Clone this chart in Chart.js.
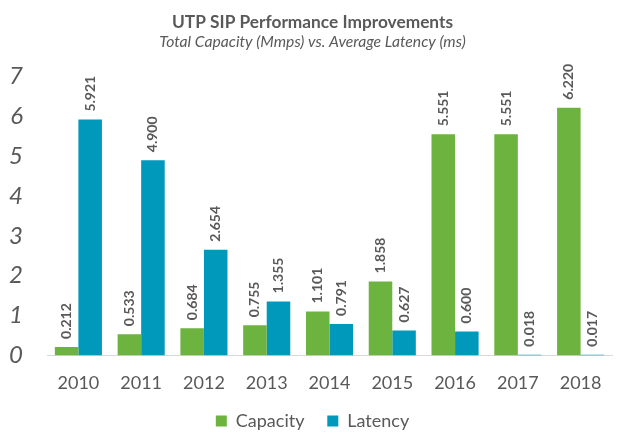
<!DOCTYPE html>
<html>
<head>
<meta charset="utf-8">
<script src="https://cdn.jsdelivr.net/npm/chart.js@4/dist/chart.umd.min.js"></script>
<style>
  html, body { margin: 0; padding: 0; background: #fff; }
</style>
</head>
<body>
<canvas id="chart" width="625" height="445"></canvas>
<script>
const years = ['2010', '2011', '2012', '2013', '2014', '2015', '2016', '2017', '2018'];
const capacity = [0.212, 0.533, 0.684, 0.755, 1.101, 1.858, 5.551, 5.551, 6.220];
const latency = [5.921, 4.900, 2.654, 1.355, 0.791, 0.627, 0.600, 0.018, 0.017];
const yTicks = [0, 1, 2, 3, 4, 5, 6, 7];

const FONT = 'Lato, "Open Sans", sans-serif';
const GREY = '#595959';

// draws the rotated value above each bar
const barValueLabels = {
  id: 'barValueLabels',
  afterDatasetsDraw(chart) {
    const ctx = chart.ctx;
    ctx.save();
    ctx.font = 'bold 14px ' + FONT;
    ctx.fillStyle = GREY;
    ctx.textAlign = 'left';
    ctx.textBaseline = 'middle';
    chart.data.datasets.forEach((ds, i) => {
      chart.getDatasetMeta(i).data.forEach((bar, j) => {
        ctx.save();
        ctx.translate(bar.x, bar.y - 8);
        ctx.rotate(-Math.PI / 2);
        ctx.fillText(ds.data[j].toFixed(3), 0, 0);
        ctx.restore();
      });
    });
    ctx.restore();
  }
};

new Chart(document.getElementById('chart').getContext('2d'), {
  type: 'bar',
  data: {
    labels: years,
    datasets: [
      {
        label: 'Capacity',
        data: capacity,
        backgroundColor: '#6db33f',
        categoryPercentage: 0.75,
        barPercentage: 1.0
      },
      {
        label: 'Latency',
        data: latency,
        backgroundColor: '#0099bb',
        categoryPercentage: 0.75,
        barPercentage: 1.0
      }
    ]
  },
  options: {
    responsive: false,
    animation: false,
    layout: { padding: { left: 0, right: 0, top: 4, bottom: 5 } },
    plugins: {
      title: {
        display: true,
        text: 'UTP SIP Performance Improvements',
        color: GREY,
        font: { family: FONT, size: 17.3, weight: 'bold' },
        padding: { top: 8, bottom: 0 }
      },
      subtitle: {
        display: true,
        text: 'Total Capacity (Mmps) vs. Average Latency (ms)',
        color: GREY,
        font: { family: FONT, size: 15.7, style: 'italic' },
        padding: { bottom: 25 }
      },
      legend: {
        position: 'bottom',
        labels: {
          color: GREY,
          font: { family: FONT, size: 18 },
          boxWidth: 11,
          boxHeight: 11,
          padding: 9,
          // a little extra room between the two entries
          generateLabels: chart => Chart.defaults.plugins.legend.labels.generateLabels(chart)
            .map((item, i, all) => i < all.length - 1 ? { ...item, text: item.text + '   ' } : item)
        }
      },
      tooltip: { enabled: false }
    },
    scales: {
      x: {
        grid: { display: false },
        border: { color: '#d9d9d9', width: 1 },
        ticks: {
          color: GREY,
          font: { family: FONT, size: 18 },
          padding: 9
        }
      },
      y: {
        min: 0,
        max: 7,
        afterBuildTicks: axis => { axis.ticks = yTicks.map(v => ({ value: v })); },
        afterFit: axis => { axis.width = 47; },
        grid: { display: false, drawTicks: false },
        border: { display: false },
        ticks: {
          color: GREY,
          font: { family: FONT, size: 24, style: 'italic' },
          padding: 24
        }
      },
      // empty right-hand strip so the plot ends where the original does
      yRight: {
        position: 'right',
        grid: { display: false, drawTicks: false },
        border: { display: false },
        ticks: { display: false },
        afterFit: axis => { axis.width = 13; }
      }
    }
  },
  plugins: [barValueLabels]
});
</script>
</body>
</html>
